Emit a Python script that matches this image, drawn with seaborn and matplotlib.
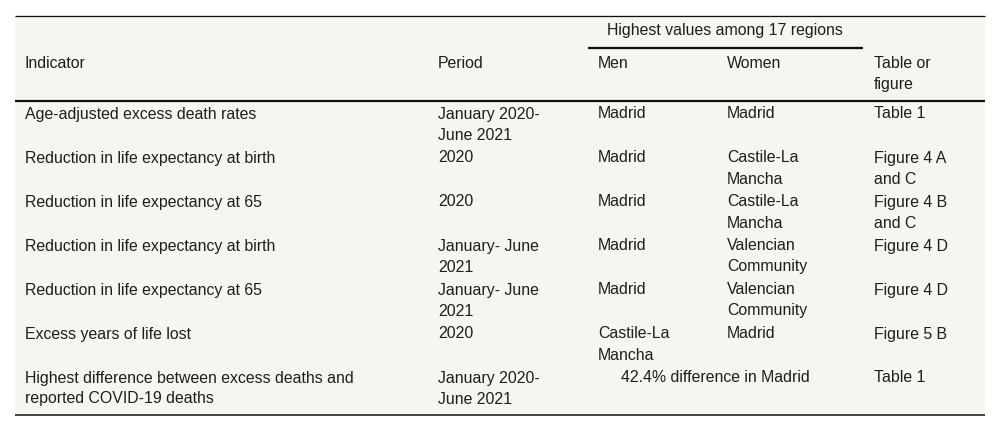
import matplotlib
matplotlib.use("Agg")
import matplotlib.pyplot as plt
import seaborn as sns

# Table content
indicators = [
    "Age-adjusted excess death rates",
    "Reduction in life expectancy at birth",
    "Reduction in life expectancy at 65",
    "Reduction in life expectancy at birth",
    "Reduction in life expectancy at 65",
    "Excess years of life lost",
    "Highest difference between excess deaths and\nreported COVID-19 deaths",
]
periods = [
    "January 2020-\nJune 2021",
    "2020",
    "2020",
    "January- June\n2021",
    "January- June\n2021",
    "2020",
    "January 2020-\nJune 2021",
]
men = ["Madrid", "Madrid", "Madrid", "Madrid", "Madrid", "Castile-La\nMancha", None]
women = ["Madrid", "Castile-La\nMancha", "Castile-La\nMancha", "Valencian\nCommunity",
         "Valencian\nCommunity", "Madrid", None]
merged = [None, None, None, None, None, None, "42.4% difference in Madrid"]
sources = ["Table 1", "Figure 4 A\nand C", "Figure 4 B\nand C", "Figure 4 D",
           "Figure 4 D", "Figure 5 B", "Table 1"]

headers = ["Indicator", "Period", "Men", "Women", "Table or\nfigure"]
group_header = "Highest values among 17 regions"

sns.set_style("white")
plt.rcParams["font.family"] = ["Liberation Sans", "DejaVu Sans"]

fig = plt.figure(figsize=(10, 4.32), dpi=100)
ax = fig.add_axes([0, 0, 1, 1])
ax.set_xlim(0, 1000)
ax.set_ylim(432, 0)
ax.axis("off")

bg = "#f7f5f0"
ax.add_patch(plt.Rectangle((15, 15), 970, 400, facecolor=bg, edgecolor="none"))

# rules
ax.hlines(15.5, 15, 985, color="#111111", lw=0.9)
ax.hlines(48, 588, 863, color="#111111", lw=1.6)
ax.hlines(101, 15, 985, color="#111111", lw=1.6)
ax.hlines(415, 15, 985, color="#111111", lw=1.1)

fs = 11.4
col_x = [25, 438, 598, 727, 874]
tc = "#1e1e1e"
line_h = 21

def put(x, y, s, ha="left"):
    for i, ln in enumerate(s.split("\n")):
        ax.text(x, y + i * line_h, ln, fontsize=fs, color=tc, va="center", ha=ha)

ax.text(725, 31, group_header, fontsize=fs, color=tc, va="center", ha="center")
for x, h in zip(col_x, headers):
    put(x, 64, h)

row_y = [114 + 44 * i for i in range(len(indicators))]
for i, y in enumerate(row_y):
    put(col_x[0], y, indicators[i])
    put(col_x[1], y, periods[i])
    if merged[i]:
        # spans the Men and Women columns
        put(715, y, merged[i], ha="center")
    else:
        put(col_x[2], y, men[i])
        put(col_x[3], y, women[i])
    put(col_x[4], y, sources[i])

fig.savefig("out.png", dpi=100, facecolor="white")
